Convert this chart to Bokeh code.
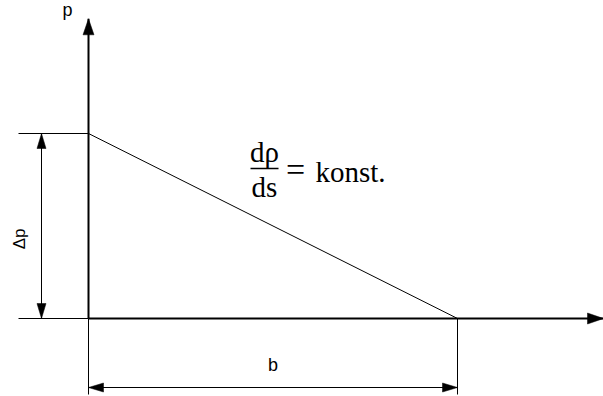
import numpy as np
from bokeh.plotting import figure
from bokeh.models import Range1d
from bokeh.embed import file_html
from bokeh.resources import INLINE
from bokeh.core.properties import value

# Linear pressure drop over a gap of width b (normalised units)
b = 1.0            # gap width
delta_p = 1.0      # pressure difference across the gap
s_line = [0.0, b]          # position along the gap
p_line = [delta_p, 0.0]    # pressure at those positions

# axis extents (in diagram units)
p_axis_top = 1.62

# labels
axis_label_p = "p"
dim_label_dp = "Δp"
dim_label_b = "b"
formula_num = "dρ"
formula_den = "ds"
formula_eq = "="
formula_rhs = "konst."

W, H = 603, 396
PX_X = 369.0   # pixels per unit of s
PX_Y = 185.0   # pixels per unit of p
ORIGIN_PX = (88.0, 318.0)

p = figure(width=W, height=H, output_backend="svg", toolbar_location=None,
           x_range=Range1d(-ORIGIN_PX[0] / PX_X, (W - ORIGIN_PX[0]) / PX_X),
           y_range=Range1d(-(H - ORIGIN_PX[1]) / PX_Y, ORIGIN_PX[1] / PX_Y),
           min_border=0, outline_line_color=None, background_fill_color="white",
           border_fill_color="white")
p.axis.visible = False
p.grid.visible = False


def dx(px):
    return px / PX_X


def dy(px):
    return px / PX_Y


def head(tx, ty, ux, uy, length=15.0, width=10.0):
    """Triangle arrow head with tip at (tx, ty), pointing along (ux, uy) in pixel space."""
    n = np.hypot(ux, uy)
    ux, uy = ux / n, uy / n
    vx, vy = -uy, ux
    bx, by = -ux * length, -uy * length
    xs = [tx, tx + dx(bx + vx * width / 2), tx + dx(bx - vx * width / 2)]
    ys = [ty, ty + dy(by + vy * width / 2), ty + dy(by - vy * width / 2)]
    return xs, ys


x_end = p.x_range.end

# coordinate axes
p.line([0, 0], [0, p_axis_top], line_color="black", line_width=2)
p.line([0, x_end], [0, 0], line_color="black", line_width=2)

# pressure distribution
p.line(s_line, p_line, line_color="black", line_width=1)

# extension lines
ext_left = -dx(70)
ext_down = -dy(76)
p.line([ext_left, 0], [delta_p, delta_p], line_color="black", line_width=1)
p.line([ext_left, 0], [0, 0], line_color="black", line_width=1)
p.line([0, 0], [0, ext_down], line_color="black", line_width=1)
p.line([b, b], [0, ext_down], line_color="black", line_width=1)

# dimension lines
dim_dp_x = -dx(47)
dim_b_y = -dy(69)
p.line([dim_dp_x, dim_dp_x], [0, delta_p], line_color="black", line_width=1)
p.line([0, b], [dim_b_y, dim_b_y], line_color="black", line_width=1)

heads = [
    head(0, p_axis_top, 0, 1, 16, 11),
    head(x_end, 0, 1, 0, 16, 11),
    head(dim_dp_x, delta_p, 0, 1, 15, 9),
    head(dim_dp_x, 0, 0, -1, 15, 9),
    head(0, dim_b_y, -1, 0, 15, 9),
    head(b, dim_b_y, 1, 0, 15, 9),
]
p.patches([h[0] for h in heads], [h[1] for h in heads],
          fill_color="black", line_color="black", line_width=0.5)

sans = value("Liberation Sans")
serif = value("Liberation Serif")

# axis / dimension labels
p.text(x=[-dx(21)], y=[p_axis_top + dy(9)], text=[axis_label_p],
       text_font=sans, text_font_size=value("18px"), text_color="black",
       text_align="center", text_baseline="middle")
p.text(x=[dim_dp_x - dx(22)], y=[delta_p * 0.43], text=[dim_label_dp],
       text_font=sans, text_font_size=value("17px"), text_color="black",
       text_align="center", text_baseline="middle", angle=np.pi / 2)
p.text(x=[b / 2], y=[dim_b_y + dy(23)], text=[dim_label_b],
       text_font=sans, text_font_size=value("18px"), text_color="black",
       text_align="center", text_baseline="middle")

# gradient formula
fx = 0.477
fy = 0.811
p.line([fx - dx(14), fx + dx(14)], [fy, fy], line_color="black", line_width=1.5)
p.text(x=[fx, fx], y=[fy + dy(16), fy - dy(19)], text=[formula_num, formula_den],
       text_font=serif, text_font_size=value("29px"), text_color="black",
       text_align="center", text_baseline="alphabetic")
p.text(x=[fx + dx(31)], y=[fy - dy(1)], text=[formula_eq],
       text_font=serif, text_font_size=value("34px"), text_color="black",
       text_align="center", text_baseline="alphabetic")
p.text(x=[fx + dx(51)], y=[fy - dy(4)], text=[formula_rhs],
       text_font=serif, text_font_size=value("29px"), text_color="black",
       text_align="left", text_baseline="alphabetic")

open("out.html", "w").write(file_html(p, INLINE))
